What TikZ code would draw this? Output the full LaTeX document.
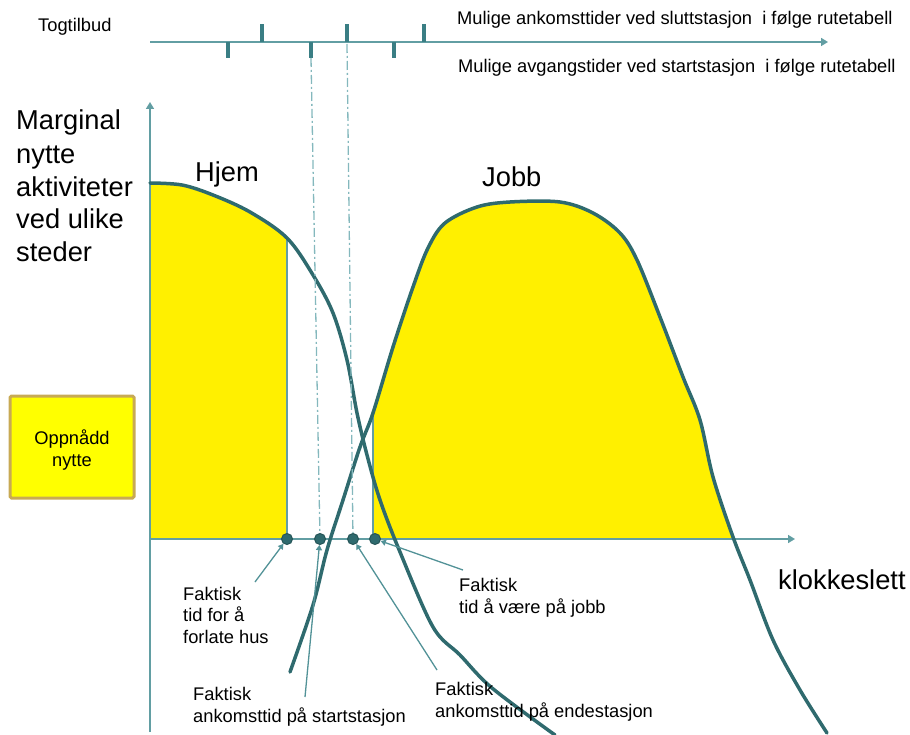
\documentclass[tikz,border=0pt]{standalone}
\usepackage{fontspec}
\setmainfont{Liberation Sans}
\usepackage{tikz}
\usepackage{xcolor}
\usetikzlibrary{arrows.meta}
\definecolor{curveteal}{RGB}{47,106,110}
\definecolor{tickteal}{RGB}{58,126,132}
\definecolor{axisteal}{RGB}{98,158,163}
\definecolor{dashteal}{RGB}{132,184,189}
\definecolor{arrowteal}{RGB}{82,146,151}
\definecolor{fillyellow}{RGB}{255,240,0}
\definecolor{boxyellow}{RGB}{255,255,0}
\definecolor{boxborder}{RGB}{200,170,84}
\tikzset{%
  tipT/.tip={Triangle[angle=60:8pt]},
  tipS/.tip={Triangle[angle=60:6pt]},
  smalltext/.style={font=\fontsize{18.3}{21.5}\selectfont, inner sep=0pt, align=left},
  bigtext/.style={font=\fontsize{27.3}{33}\selectfont, inner sep=0pt, align=left},
  axisline/.style={color=axisteal, line width=1.5pt},
  ticklines/.style={color=tickteal, line width=4pt},
  curveline/.style={color=curveteal, line width=3.5pt, line join=round, line cap=round},
  dashline/.style={color=dashteal, line width=1.3pt, dash pattern=on 9pt off 3pt on 2pt off 3pt},
  pointer/.style={color=arrowteal, line width=1.3pt, -tipS},
  timedot/.style={circle, fill=curveteal, draw=curveteal!80!black, line width=1pt, minimum size=11pt, inner sep=0pt}
}

\begin{document}
\begin{tikzpicture}[x=1pt,y=-1pt]
\useasboundingbox (0,0) rectangle (910,735);
% yellow areas
\begin{scope}
\clip (150,0) rectangle (287,539);
\fill[fillyellow] plot[smooth,tension=.55] coordinates {(150,183) (182,185) (213,195) (250,212) (287,238) (313,275) (333,313) (347,360) (357,413) (367,455) (380,500) (400,552) (433,627) (460,655) (492,688) (555,735)} -- (555,760) -- (150,760) -- cycle;
\end{scope}
\begin{scope}
\clip (373,0) rectangle (900,539);
\fill[fillyellow] plot[smooth,tension=.55] coordinates {(290,672) (313,605) (327,550) (343,500) (360,447) (373,413) (393,347) (413,287) (428,248) (445,223) (477,207) (510,202) (560,202) (593,213) (620,233) (637,260) (660,317) (683,377) (700,420) (713,477) (733,537) (750,580) (773,640) (800,690) (827,733)} -- (827,760) -- (290,760) -- cycle;
\end{scope}
\draw[axisline, line width=1.2pt] (287,238) -- (287,539);
\draw[axisline, line width=1.2pt] (373,413) -- (373,539);

% timetable line
\draw[axisline, -tipT] (150,42) -- (828,42);
\foreach \x in {262,347,424} \draw[ticklines] (\x,42) -- (\x,24);
\foreach \x in {228,311,394} \draw[ticklines] (\x,42) -- (\x,58);
\coordinate (depB) at (311,58);
\coordinate (arrC) at (347,44);

% axes
\draw[axisline, -tipT] (150,732) -- (150,102);
\draw[axisline, -tipT] (150,539) -- (795,539);

% curves
\draw[curveline] plot[smooth,tension=.55] coordinates {(150,183) (182,185) (213,195) (250,212) (287,238) (313,275) (333,313) (347,360) (357,413) (367,455) (380,500) (400,552) (433,627) (460,655) (492,688) (555,735)};
\draw[curveline] plot[smooth,tension=.55] coordinates {(290,672) (313,605) (327,550) (343,500) (360,447) (373,413) (393,347) (413,287) (428,248) (445,223) (477,207) (510,202) (560,202) (593,213) (620,233) (637,260) (660,317) (683,377) (700,420) (713,477) (733,537) (750,580) (773,640) (800,690) (827,733)};

% actual times
\node[timedot] (leave) at (287,539) {};
\node[timedot] (startst) at (320,539) {};
\node[timedot] (endst) at (353,539) {};
\node[timedot] (atjob) at (375,539) {};
\draw[dashline] (depB) -- (startst);
\draw[dashline] (arrC) -- (endst);

% texts
\node[smalltext, anchor=base west] (togtilbud) at (38,32) {Togtilbud};
\node[smalltext, anchor=base west] (arrtext) at (457,25) {Mulige ankomsttider ved sluttstasjon \ i følge rutetabell};
\node[smalltext, anchor=base west] (deptext) at (458,73) {Mulige avgangstider ved startstasjon \ i følge rutetabell};
\node[bigtext, anchor=base west] (ylabel) at (16,262) {Marginal\\nytte\\aktiviteter\\ved ulike\\steder};
\node[bigtext, anchor=base west] (xlabel) at (778,589) {klokkeslett};
\node[bigtext, anchor=base west] (hjem) at (195,182) {Hjem};
\node[bigtext, anchor=base west] (jobb) at (482,187) {Jobb};

\node[draw=boxborder, line width=3pt, fill=boxyellow, rounded corners=1.5pt, minimum width=124pt, minimum height=102pt] (gainbox) at (72,447) {};
\node[smalltext, align=center, anchor=base] (gaintext) at (72,466) {Oppnådd\\nytte};

\node[smalltext, anchor=base west] (leavetext) at (183,643) {Faktisk\\tid for å\\forlate hus};
\node[smalltext, anchor=base west] (starttext) at (193,722) {Faktisk\\ankomsttid på startstasjon};
\node[smalltext, anchor=base west] (jobtext) at (459,613) {Faktisk\\tid å være på jobb};
\node[smalltext, anchor=base west] (endtext) at (435,717) {Faktisk\\ankomsttid på endestasjon};

\coordinate (leavetail) at (255,582);
\coordinate (starttail) at (305,697);
\coordinate (endtail) at (437,670);
\coordinate (jobtail) at (463,570);
\draw[pointer] (leavetail) -- (leave);
\draw[pointer] (starttail) -- (startst);
\draw[pointer] (endtail) -- (endst);
\draw[pointer] (jobtail) -- (atjob);
\end{tikzpicture}
\end{document}
